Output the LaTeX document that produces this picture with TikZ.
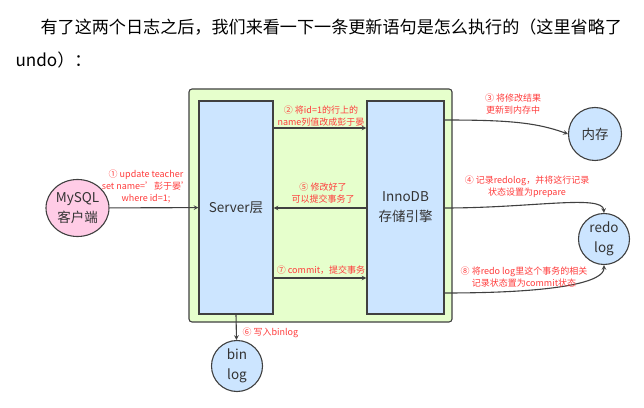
\documentclass[tikz,border=0pt]{standalone}
\usepackage{fontspec}
\setmainfont{Noto Sans CJK SC}
\usetikzlibrary{positioning,shapes.geometric}
\definecolor{layergreen}{HTML}{E6FFCC}
\definecolor{boxblue}{HTML}{CCE5FF}
\definecolor{clientpink}{HTML}{FFCCE6}
\definecolor{linegray}{HTML}{404040}
\definecolor{notered}{HTML}{FF3B3B}
\definecolor{textgray}{HTML}{333333}

\begin{document}
\begin{tikzpicture}[%
    x=1pt, y=1pt,
    ->,
    >=stealth,
    line width=1.1pt,
    draw=linegray,
    layer/.style={%
      rectangle,
      rounded corners=3pt,
      fill=layergreen,
      draw=linegray,
      minimum width=263pt,
      minimum height=233pt
    },
    part/.style={%
      rectangle,
      fill=boxblue,
      draw=linegray,
      minimum height=213pt,
      text=textgray,
      align=center,
      font=\fontsize{13.5}{20}\selectfont
    },
    store/.style={%
      circle,
      fill=boxblue,
      draw=linegray,
      inner sep=0pt,
      minimum size=51pt,
      text=textgray,
      align=center,
      font=\fontsize{13.5}{20}\selectfont
    },
    note/.style={%
      text=notered,
      inner sep=0pt,
      align=center,
      font=\fontsize{9}{12}\selectfont
    }
  ]
    \useasboundingbox (0,0) rectangle (644,407);

    \node[anchor=west, inner sep=0pt, font=\fontsize{17.1}{20}\selectfont] (title) at (40,380)
      {有了这两个日志之后，我们来看一下一条更新语句是怎么执行的（这里省略了};
    \node[anchor=west, inner sep=0pt, font=\fontsize{17.1}{20}\selectfont] (title2) at (15,347)
      {undo）：};

    \node[layer] (mysql) at (320.5,201.5) {};
    \node[part, minimum width=74pt] (server) at (236,199.5)   {Server层};
    \node[part, minimum width=77pt] (innodb) at (405.5,199.5) {InnoDB\\存储引擎};

    \node[store, ellipse, fill=clientpink, minimum width=63pt, minimum height=57pt] (client) at (77.5,199) {MySQL\\客户端};
    \node[store, minimum size=53pt] (mem) at (595,273)  {内存};
    \node[store] (redo) at (604,168) {redo\\log};
    \node[store] (binlog) at (237,41) {bin\\log};

    \coordinate (y2) at (0,279);
    \coordinate (y3) at (0,287);
    \coordinate (y5) at (0,199);
    \coordinate (y7) at (0,129);
    \coordinate (y8) at (0,114);

    \path (client) edge node {} (server)
          (server.east |- y2) edge node {} (innodb.west |- y2)
          (innodb.east |- y3) edge[out=0, in=160, out looseness=1.3, in looseness=0.7] node {} (mem.west)
          (innodb.east |- y5) edge[out=0, in=95, out looseness=1.4, in looseness=0.3] node {} (redo.north)
          (innodb.west |- y5) edge node {} (server.east |- y5)
          (server.south) edge node {} (binlog)
          (server.east |- y7) edge node {} (innodb.west |- y7)
          (innodb.east |- y8) edge[out=0, in=-90, out looseness=1.9, in looseness=0.25] node {} (redo.south);

    \node[note] (n1) at (146,220)   {① update teacher\\set name='彭于晏'\\where id=1;};
    \node[note] (n2) at (321,291)   {② 将id=1的行上的\\name列值改成彭于晏};
    \node[note] (n3) at (513,302.5) {③ 将修改结果\\更新到内存中};
    \node[note] (n4) at (527,220)   {④ 记录redolog，并将这行记录\\状态设置为prepare};
    \node[note] (n5) at (323,214)   {⑤ 修改好了\\可以提交事务了};
    \node[note, anchor=west] (n6) at (242,74) {⑥ 写入binlog};
    \node[note] (n7) at (321,137)   {⑦ commit，提交事务};
    \node[note] (n8) at (524,130)   {⑧ 将redo log里这个事务的相关\\记录状态置为commit状态};
  \end{tikzpicture}
\end{document}
